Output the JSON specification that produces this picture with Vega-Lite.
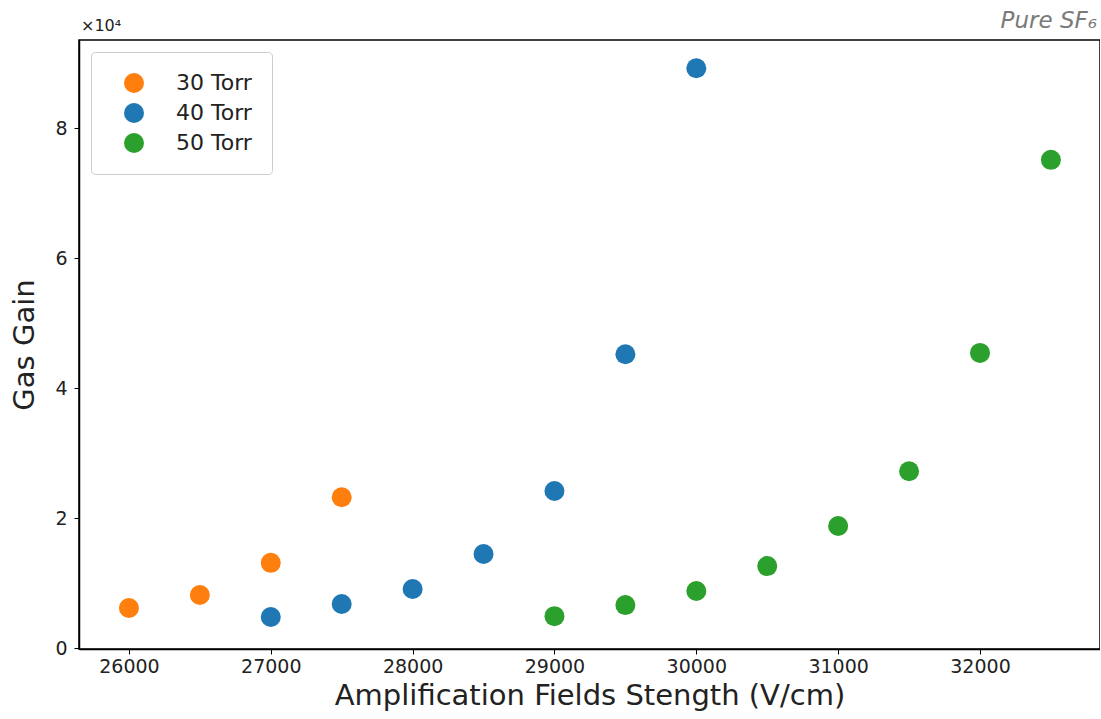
{
  "$schema": "https://vega.github.io/schema/vega-lite/v6.json",
  "width": 1021,
  "height": 609,
  "autosize": {"type": "none"},
  "padding": {"left": 79, "top": 40, "right": 0, "bottom": 70},
  "background": "white",
  "title": {
    "text": "Pure SF₆",
    "anchor": "end",
    "frame": "group",
    "font": "DejaVu Sans",
    "fontSize": 23,
    "fontStyle": "italic",
    "fontWeight": "normal",
    "color": "#7a7a7a",
    "baseline": "bottom",
    "offset": 8,
    "dx": -3,
    "dy": 46
  },
  "config": {
    "font": "DejaVu Sans",
    "view": {"stroke": "black", "strokeWidth": 1.5},
    "axis": {
      "grid": false,
      "domainColor": "black",
      "domainWidth": 1.5,
      "tickColor": "black",
      "tickSize": 5,
      "labelFont": "DejaVu Sans",
      "labelFontSize": 19,
      "labelColor": "#222",
      "titleFont": "DejaVu Sans",
      "titleFontSize": 29,
      "titleFontWeight": "normal",
      "titleColor": "#222"
    }
  },
  "data": {
    "values": [
      {"field": 26000, "gain": 6150, "pressure": "30 Torr"},
      {"field": 26500, "gain": 8150, "pressure": "30 Torr"},
      {"field": 27000, "gain": 13100, "pressure": "30 Torr"},
      {"field": 27500, "gain": 23200, "pressure": "30 Torr"},
      {"field": 27000, "gain": 4770, "pressure": "40 Torr"},
      {"field": 27500, "gain": 6770, "pressure": "40 Torr"},
      {"field": 28000, "gain": 9080, "pressure": "40 Torr"},
      {"field": 28500, "gain": 14460, "pressure": "40 Torr"},
      {"field": 29000, "gain": 24150, "pressure": "40 Torr"},
      {"field": 29500, "gain": 45200, "pressure": "40 Torr"},
      {"field": 30000, "gain": 89200, "pressure": "40 Torr"},
      {"field": 29000, "gain": 4900, "pressure": "50 Torr"},
      {"field": 29500, "gain": 6600, "pressure": "50 Torr"},
      {"field": 30000, "gain": 8770, "pressure": "50 Torr"},
      {"field": 30500, "gain": 12600, "pressure": "50 Torr"},
      {"field": 31000, "gain": 18770, "pressure": "50 Torr"},
      {"field": 31500, "gain": 27200, "pressure": "50 Torr"},
      {"field": 32000, "gain": 45400, "pressure": "50 Torr"},
      {"field": 32500, "gain": 75100, "pressure": "50 Torr"}
    ]
  },
  "layer": [
    {
      "mark": {"type": "point", "filled": true, "opacity": 1, "size": 400},
      "encoding": {
        "x": {
          "field": "field",
          "type": "quantitative",
          "scale": {"domain": [25648, 32846], "nice": false, "zero": false},
          "axis": {
            "title": "Amplification Fields Stength (V/cm)",
            "values": [26000, 27000, 28000, 29000, 30000, 31000, 32000],
            "format": "d",
            "labelPadding": 3,
            "titlePadding": 5
          }
        },
        "y": {
          "field": "gain",
          "type": "quantitative",
          "scale": {"domain": [-150, 93540], "nice": false, "zero": false},
          "axis": {
            "title": "Gas Gain",
            "values": [0, 20000, 40000, 60000, 80000],
            "labelExpr": "format(datum.value / 10000, 'd')",
            "labelPadding": 7,
            "titlePadding": 15
          }
        },
        "color": {
          "field": "pressure",
          "type": "nominal",
          "scale": {
            "domain": ["30 Torr", "40 Torr", "50 Torr"],
            "range": ["#ff7f0e", "#1f77b4", "#2ca02c"]
          },
          "legend": {
            "title": null,
            "orient": "top-left",
            "offset": 12,
            "padding": 20,
            "symbolOffset": 12,
            "symbolSize": 400,
            "symbolType": "circle",
            "labelFontSize": 22,
            "labelFont": "DejaVu Sans",
            "labelColor": "#222",
            "labelOffset": 31,
            "rowPadding": 8,
            "fillColor": "white",
            "strokeColor": "#cccccc",
            "cornerRadius": 4
          }
        }
      }
    },
    {
      "data": {"values": [{"label": "×10⁴"}]},
      "mark": {
        "type": "text",
        "align": "left",
        "baseline": "bottom",
        "fontSize": 16,
        "font": "DejaVu Sans",
        "color": "#222",
        "dy": -6,
        "dx": 2
      },
      "encoding": {
        "text": {"field": "label"},
        "x": {"datum": 25648},
        "y": {"datum": 93540}
      }
    }
  ]
}
